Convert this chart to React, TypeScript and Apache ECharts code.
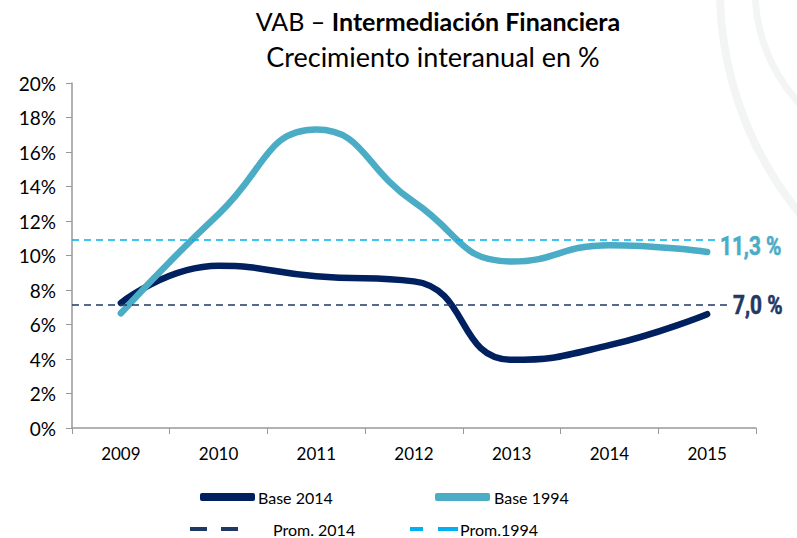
import React, { useEffect, useRef } from "react";
import * as echarts from "echarts";

const years = ["2009", "2010", "2011", "2012", "2013", "2014", "2015"];
const base2014 = [7.25, 9.4, 8.8, 8.5, 3.95, 4.8, 6.6];
const base1994 = [6.65, 12.4, 17.3, 13.1, 9.65, 10.6, 10.2];
const prom2014 = 7.15;
const prom1994 = 10.9;
const prom2014Label = "7,0 %";
const prom1994Label = "11,3 %";

const FONT = "Lato, 'Open Sans', sans-serif";
const LABEL_FONT = "Roboto, 'Noto Sans', sans-serif";
const DARK = "#002060";
const LIGHT = "#4BACC6";
const DARK_DASH = "#1F3864";
const LIGHT_DASH = "#00B0F0";
const DECO = "#f3f5f4";

export default function App() {
  const ref = useRef<HTMLDivElement>(null);
  useEffect(() => {
    if (!ref.current) return;
    const chart = echarts.init(ref.current, null, { renderer: "svg" });
    const legendText = { fontFamily: FONT, fontSize: 16, color: "#000" };
    chart.setOption({
      animation: false,
      backgroundColor: "#fff",
      title: [
        {
          text: "{a|VAB – }{b|Intermediación Financiera}",
          left: 433,
          top: 3,
          textAlign: "center",
          textStyle: {
            rich: {
              a: { fontFamily: FONT, fontSize: 25, color: "#000", fontWeight: "normal" },
              b: { fontFamily: FONT, fontSize: 25, color: "#000", fontWeight: "bold" },
            },
          },
        },
        {
          text: "Crecimiento interanual en %",
          left: 428,
          top: 38,
          textAlign: "center",
          textStyle: { fontFamily: FONT, fontSize: 27, color: "#000", fontWeight: "normal" },
        },
      ],
      grid: { left: 72, right: 41, top: 83, bottom: 110 },
      legend: [
        {
          data: ["Base 2014"], left: 195, top: 484, itemWidth: 55, itemHeight: 8, icon: "roundRect",
          textStyle: { ...legendText, padding: [0, 0, 0, -2] }, itemGap: 0,
        },
        {
          data: ["Base 1994"], left: 430, top: 484, itemWidth: 55, itemHeight: 8, icon: "roundRect",
          textStyle: { ...legendText, padding: [0, 0, 0, -1] },
        },
        {
          data: ["Prom. 2014"], left: 185, top: 516, itemWidth: 48, itemHeight: 4,
          icon: "path://M0,0H17V4H0Z M31,0H48V4H31Z",
          textStyle: { ...legendText, padding: [0, 0, 0, 30] },
        },
        {
          data: ["Prom.1994"], left: 405, top: 516, itemWidth: 48, itemHeight: 4,
          icon: "path://M0,0H13V4H0Z M28,0H48V4H28Z",
          textStyle: { ...legendText, padding: [0, 0, 0, -3] },
        },
      ],
      xAxis: {
        type: "category",
        data: years,
        boundaryGap: true,
        axisLine: { lineStyle: { color: "#999", width: 1.5 } },
        axisTick: { show: true, length: 6, lineStyle: { color: "#999" } },
        axisLabel: { fontFamily: FONT, fontSize: 17, color: "#000", margin: 17 },
      },
      yAxis: {
        type: "value",
        min: 0,
        max: 20,
        interval: 2,
        splitLine: { show: false },
        axisLine: { show: true, lineStyle: { color: "#999", width: 1.5 } },
        axisTick: { show: true, length: 6, lineStyle: { color: "#999" } },
        axisLabel: { formatter: "{value}%", fontFamily: FONT, fontSize: 19, color: "#000", margin: 16 },
      },
      series: [
        {
          name: "Prom. 2014",
          type: "line",
          data: [],
          symbol: "none",
          lineStyle: { color: DARK_DASH, type: "dashed", width: 2 },
          itemStyle: { color: DARK_DASH },
          markLine: {
            silent: true,
            symbol: ["none", "none"],
            lineStyle: { color: DARK_DASH, type: [7, 5], width: 1.6 },
            label: { show: false },
            data: [{ yAxis: prom2014 }],
          },
        },
        {
          name: "Prom.1994",
          type: "line",
          data: [],
          symbol: "none",
          lineStyle: { color: LIGHT_DASH, type: "dashed", width: 2 },
          itemStyle: { color: LIGHT_DASH },
          markLine: {
            silent: true,
            symbol: ["none", "none"],
            lineStyle: { color: LIGHT_DASH, type: [7, 5], width: 1.6 },
            label: { show: false },
            data: [{ yAxis: prom1994 }],
          },
        },
        {
          name: "Base 2014",
          type: "line",
          data: base2014,
          smooth: 0.5,
          symbol: "none",
          lineStyle: { color: DARK, width: 6.5, cap: "round" },
          itemStyle: { color: DARK },
          z: 3,
        },
        {
          name: "Base 1994",
          type: "line",
          data: base1994,
          smooth: 0.5,
          symbol: "none",
          lineStyle: { color: LIGHT, width: 6.5, cap: "round" },
          itemStyle: { color: LIGHT },
          z: 4,
        },
      ],
    });

    const y1994 = chart.convertToPixel({ yAxisIndex: 0 }, prom1994) as number;
    const y2014 = chart.convertToPixel({ yAxisIndex: 0 }, prom2014) as number;
    const makeLabel = (x: number, y: number, w: number, text: string, color: string) => ({
      type: "group",
      x,
      y,
      z: 50,
      children: [
        { type: "rect", z: 50, shape: { x: 0, y: -13, width: w, height: 24 }, style: { fill: "#fff" } },
        {
          type: "text",
          z: 51,
          x: 1,
          y: 0,
          scaleX: 0.8,
          style: {
            text,
            fill: color,
            font: `bold 26px ${LABEL_FONT}`,
            verticalAlign: "middle",
            align: "left",
            stroke: color,
            lineWidth: 0.6,
          },
        },
      ],
    });
    chart.setOption({
      graphic: [
        {
          type: "arc",
          z: -10,
          silent: true,
          shape: { cx: 1073, cy: -10, r: 353, startAngle: Math.PI * 0.5, endAngle: Math.PI * 1.05 },
          style: { stroke: DECO, lineWidth: 8, fill: null },
        },
        {
          type: "arc",
          z: -10,
          silent: true,
          shape: { cx: 922, cy: -10, r: 167, startAngle: Math.PI * 0.5, endAngle: Math.PI * 1.05 },
          style: { stroke: DECO, lineWidth: 7, fill: null },
        },
        makeLabel(719, y1994 + 6, 78, prom1994Label, LIGHT),
        makeLabel(732, y2014 + 1, 65, prom2014Label, DARK_DASH),
      ],
    });
    return () => chart.dispose();
  }, []);
  return <div ref={ref} style={{ width: 797, height: 538, position: "absolute", left: 0, top: 0 }} />;
}
